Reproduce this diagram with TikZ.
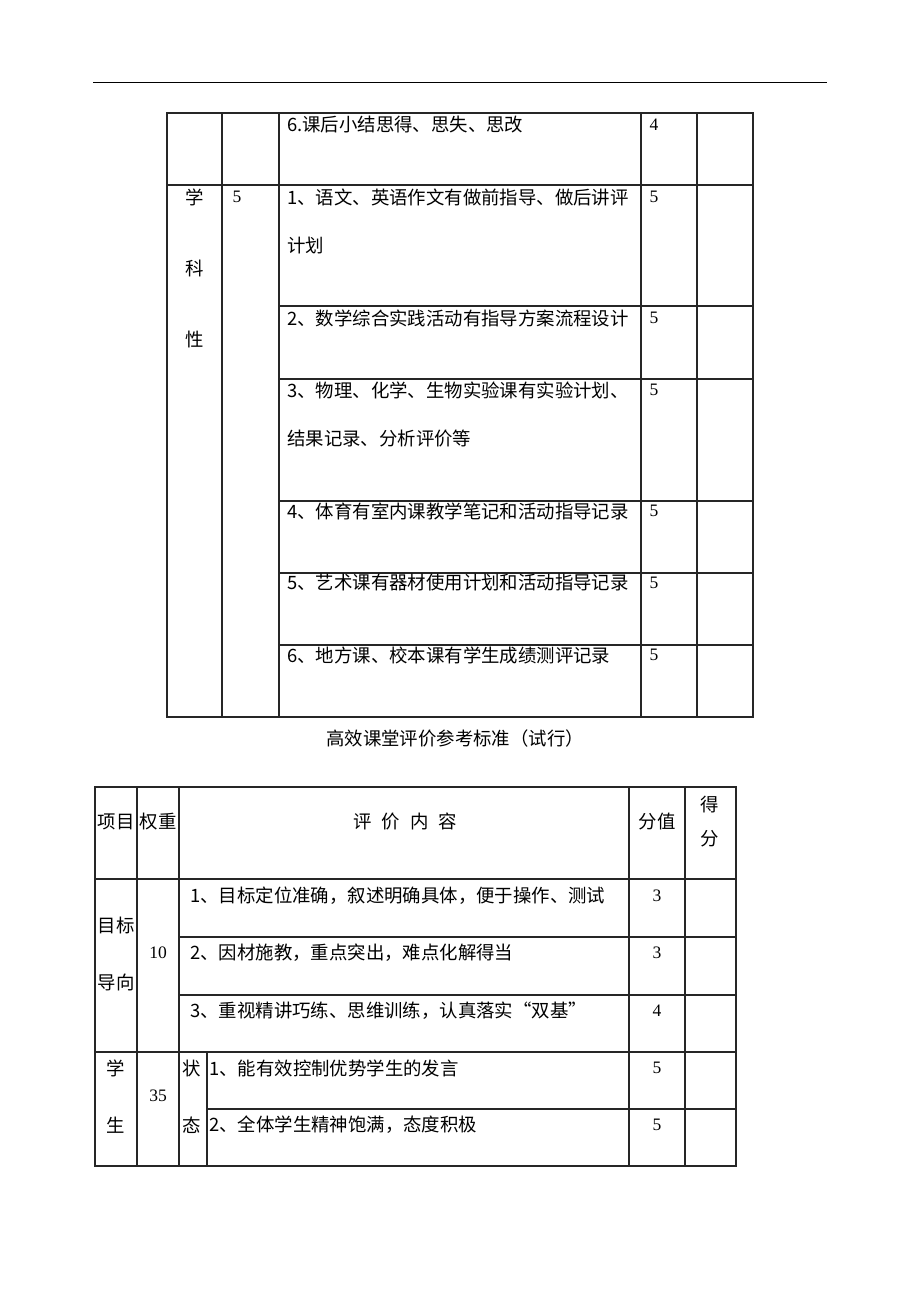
\documentclass[tikz,border=0pt]{standalone}
\usepackage{fontspec}
\setmainfont{Liberation Serif}
\newfontfamily\cjk{Noto Sans CJK SC}
\usetikzlibrary{positioning}

\tikzset{
  grid/.style={line width=1.4pt, black!85},
  txt/.style={anchor=west, inner sep=0pt, font=\cjk\fontsize{18.4}{19}\selectfont},
  mid/.style={anchor=center, inner sep=0pt, font=\cjk\fontsize{18.4}{19}\selectfont},
  num/.style={anchor=center, inner sep=0pt, font=\fontsize{17.5}{19}\selectfont},
}

\begin{document}
\begin{tikzpicture}[x=1pt, y=-1pt]
\useasboundingbox [fill=white] (0,0) rectangle (920,1302);

% page rule
\draw [line width=1pt] (93,82) -- (827,82);

% first table
\draw [grid] (167,113) rectangle (753,717);
\foreach \x in {222,279,641,697} \draw [grid] (\x,113) -- (\x,717);
\draw [grid] (167,185) -- (753,185);
\foreach \y in {306,379,501,573,645} \draw [grid] (279,\y) -- (753,\y);

\node [txt] (r6) at (287,125) {6.课后小结思得、思失、思改};
\node [num] (v6) at (654,125) {4};

\node [mid] (xue) at (195,197) {学};
\node [mid] (ke) at (195,268) {科};
\node [mid] (xing) at (195,339) {性};
\node [num] (w5) at (237,197) {5};

\node [txt] (s1) at (287,197) {1、语文、英语作文有做前指导、做后讲评};
\node [txt] (s1b) at (287,246) {计划};
\node [txt] (s2) at (287,318) {2、数学综合实践活动有指导方案流程设计};
\node [txt] (s3) at (287,390) {3、物理、化学、生物实验课有实验计划、};
\node [txt] (s3b) at (287,439) {结果记录、分析评价等};
\node [txt] (s4) at (287,511) {4、体育有室内课教学笔记和活动指导记录};
\node [txt] (s5) at (287,583) {5、艺术课有器材使用计划和活动指导记录};
\node [txt] (s6) at (287,655) {6、地方课、校本课有学生成绩测评记录};
\foreach \y/\n in {197/a,318/b,390/c,511/d,583/e,655/f}
  \node [num] (p\n) at (654,\y) {5};

% caption
\node [mid] (title) at (455,738) {高效课堂评价参考标准（试行）};

% second table
\draw [grid] (95,787) rectangle (736,1166);
\foreach \x in {137,179,629,685} \draw [grid] (\x,787) -- (\x,1166);
\draw [grid] (207,1052) -- (207,1166);
\draw [grid] (95,879) -- (736,879);
\draw [grid] (179,937) -- (736,937);
\draw [grid] (179,995) -- (736,995);
\draw [grid] (95,1052) -- (736,1052);
\draw [grid] (207,1109) -- (736,1109);

\node [mid] (hxm) at (116,822) {项目};
\node [mid] (hqz) at (158,822) {权重};
\node [mid] (hnr) at (405,822) {评\hspace{0.55em}价\hspace{0.55em}内\hspace{0.55em}容};
\node [mid] (hfz) at (657,822) {分值};
\node [mid] (hde) at (710,805) {得};
\node [mid] (hfe) at (710,839) {分};

\node [mid] (mb) at (116,925) {目标};
\node [mid] (dx) at (116,982) {导向};
\node [num] (w10) at (158,953) {10};
\node [txt] (t1) at (190,896) {1、目标定位准确，叙述明确具体，便于操作、测试};
\node [txt] (t2) at (190,953) {2、因材施教，重点突出，难点化解得当};
\node [txt] (t3) at (190,1011) {3、重视精讲巧练、思维训练，认真落实“双基”};
\node [num] (q1) at (657,896) {3};
\node [num] (q2) at (657,953) {3};
\node [num] (q3) at (657,1011) {4};

\node [mid] (xs) at (116,1068) {学};
\node [mid] (sh) at (116,1125) {生};
\node [num] (w35) at (158,1096) {35};
\node [mid] (zh) at (192,1068) {状};
\node [mid] (tai) at (192,1125) {态};
\node [txt] (u1) at (209,1068) {1、能有效控制优势学生的发言};
\node [txt] (u2) at (209,1125) {2、全体学生精神饱满，态度积极};
\node [num] (q4) at (657,1068) {5};
\node [num] (q5) at (657,1125) {5};
\end{tikzpicture}
\end{document}
